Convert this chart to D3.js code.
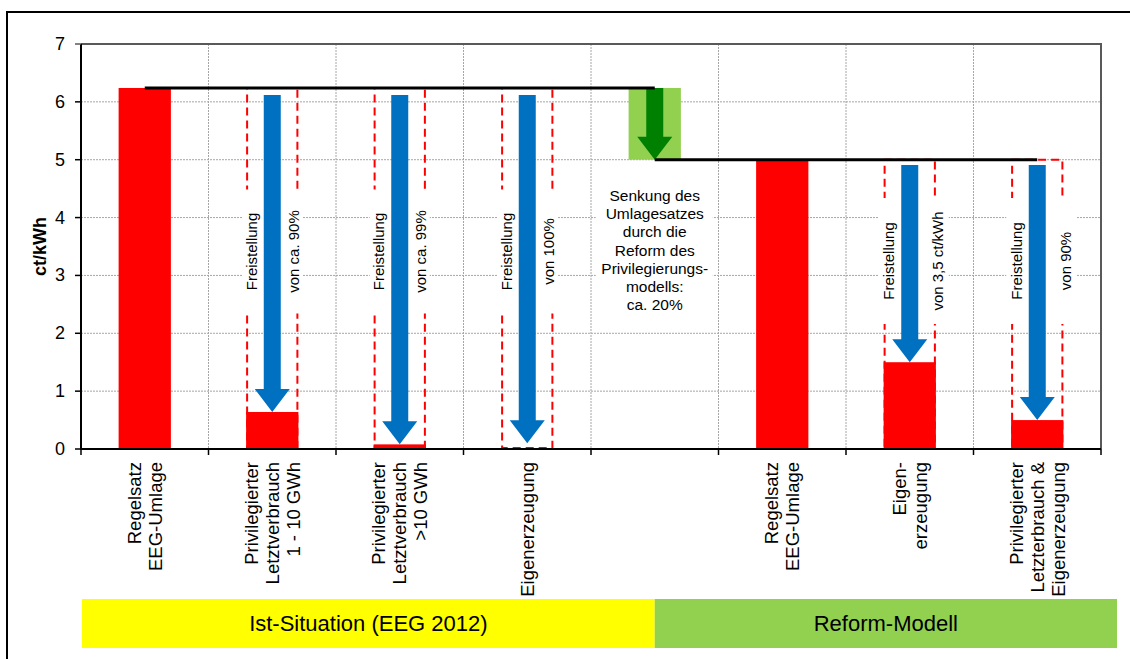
<!DOCTYPE html>
<html>
<head>
<meta charset="utf-8">
<script src="https://cdn.jsdelivr.net/npm/d3@7"></script>
<style>
  html, body { margin: 0; padding: 0; background: #fff; }
  svg { display: block; }
  text { font-family: "Liberation Sans", Arial, sans-serif; fill: #000; }
</style>
</head>
<body>
<svg id="chart" width="1130" height="659"></svg>
<script>
// Category labels (multi-line, rotated under the axis)
const categories = [
  ["Regelsatz", "EEG-Umlage"],
  ["Privilegierter", "Letztverbrauch", "1 - 10 GWh"],
  ["Privilegierter", "Letztverbrauch", ">10 GWh"],
  ["Eigenerzeugung"],
  [],
  ["Regelsatz", "EEG-Umlage"],
  ["Eigen-", "erzeugung"],
  ["Privilegierter", "Letzterbrauch &", "Eigenerzeugung"]
];

// Payable levy per group, ct/kWh (null = empty slot)
const barValues = [6.24, 0.64, 0.08, 0, null, 5.0, 1.5, 0.5];

// Levy rates: current rule and reform model
const rateIst = 6.24;
const rateReform = 5.0;

// Exemptions: category, rate they start from, arrow start and arrow end (ct/kWh)
const exemptCategory = [1, 2, 3, 6, 7];
const exemptRate = [6.24, 6.24, 6.24, 5.0, 5.0];
const arrowFrom = [6.12, 6.12, 6.12, 4.91, 4.91];
const arrowTo = [0.64, 0.08, 0.1, 1.5, 0.5];
const exemptLeft = ["Freistellung", "Freistellung", "Freistellung", "Freistellung", "Freistellung"];
const exemptRight = ["von ca. 90%", "von ca. 99%", "von 100%", "von 3,5 ct/kWh", "von 90%"];

// Reduction of the levy rate by the reform
const reductionCategory = 4;
const reductionText = ["Senkung des", "Umlagesatzes", "durch die", "Reform des",
  "Privilegierungs-", "modells:", "ca. 20%"];

// Y axis ticks
const yTicks = [0, 1, 2, 3, 4, 5, 6, 7];

// Scenario bands below the axis
const scenarios = ["Ist-Situation (EEG 2012)", "Reform-Modell"];

// ---------------------------------------------------------------
const svg = d3.select("#chart");
const plot = { left: 81, right: 1101, top: 44, bottom: 449 };

const y = d3.scaleLinear().domain([0, 7]).range([plot.bottom, plot.top]);
const x = d3.scaleBand().domain(d3.range(categories.length)).range([plot.left, plot.right]);
const bw = x.bandwidth() * 0.41;
const cx = i => x(i) + x.bandwidth() / 2;

// Outer frame
svg.append("rect").attr("x", 7).attr("y", 12).attr("width", 1140).attr("height", 670)
  .attr("fill", "none").attr("stroke", "#000").attr("stroke-width", 2);

// Grid
const grid = svg.append("g");
grid.selectAll("line.h").data(yTicks.filter(t => t > 0 && t < 7)).join("line")
  .attr("x1", plot.left).attr("x2", plot.right)
  .attr("y1", d => y(d)).attr("y2", d => y(d))
  .attr("stroke", "#a6a6a6").attr("stroke-width", 1).attr("stroke-dasharray", "2,1");
grid.selectAll("line.v").data(d3.range(1, categories.length)).join("line")
  .attr("x1", d => x(d)).attr("x2", d => x(d))
  .attr("y1", plot.top).attr("y2", plot.bottom)
  .attr("stroke", "#a6a6a6").attr("stroke-width", 1).attr("stroke-dasharray", "2,1");
// plot area border (top, right)
grid.append("path")
  .attr("d", `M${plot.left},${y(7)}H${plot.right}V${plot.bottom}`)
  .attr("fill", "none").attr("stroke", "#595959").attr("stroke-width", 2);

// Dashed outlines of the full rate for exempted groups
svg.append("g").selectAll("rect").data(exemptCategory).join("rect")
  .attr("x", c => cx(c) - bw / 2 + 1)
  .attr("width", bw - 2)
  .attr("y", (c, i) => y(exemptRate[i]))
  .attr("height", (c, i) => y(0) - y(exemptRate[i]) - 1)
  .attr("fill", "none").attr("stroke", "#ff0000").attr("stroke-width", 2)
  .attr("stroke-dasharray", "8,5");

// White backing of the exemption labels
const labelBox = { ist: { mid: 251.5, w: 60, h: 124, dx: 0, rx: 21 },
                   reform: { mid: 261, w: 70, h: 126, dx: 4, rx: 28 } };
const boxOf = i => exemptRate[i] === rateIst ? labelBox.ist : labelBox.reform;
svg.append("g").selectAll("rect").data(exemptCategory).join("rect")
  .attr("x", (c, i) => cx(c) + boxOf(i).dx - boxOf(i).w / 2)
  .attr("y", (c, i) => boxOf(i).mid - boxOf(i).h / 2)
  .attr("width", (c, i) => boxOf(i).w)
  .attr("height", (c, i) => boxOf(i).h)
  .attr("fill", "#fff");

// White backing of the reduction note
svg.append("rect").attr("x", cx(reductionCategory) - 59).attr("y", 182)
  .attr("width", 117).attr("height", 138).attr("fill", "#fff");

// Bars
svg.append("g").selectAll("rect")
  .data(barValues.map((v, i) => ({ v, i })).filter(d => d.v !== null && d.v > 0))
  .join("rect")
  .attr("x", d => cx(d.i) - bw / 2).attr("width", bw)
  .attr("y", d => y(d.v)).attr("height", d => y(0) - y(d.v))
  .attr("fill", "#ff0000");

// Block arrow pointing down
function arrowPath(xc, y0, y1, shaft, head, headH) {
  return `M${xc - shaft / 2},${y0}H${xc + shaft / 2}V${y1 - headH}H${xc + head / 2}` +
         `L${xc},${y1}L${xc - head / 2},${y1 - headH}H${xc - shaft / 2}Z`;
}

svg.append("g").selectAll("path").data(exemptCategory).join("path")
  .attr("d", (c, i) => arrowPath(cx(c), y(arrowFrom[i]), y(arrowTo[i]), 17, 35, 23))
  .attr("fill", "#0070c0");

// Exemption labels
const lab = svg.append("g").style("font-size", "15px");
exemptCategory.forEach((c, i) => {
  const b = boxOf(i);
  lab.append("text")
    .attr("transform", `translate(${cx(c) - 21},${b.mid}) rotate(-90)`)
    .attr("text-anchor", "middle").attr("dominant-baseline", "central")
    .text(exemptLeft[i]);
  lab.append("text")
    .attr("transform", `translate(${cx(c) + b.rx},${b.mid}) rotate(-90)`)
    .attr("text-anchor", "middle").attr("dominant-baseline", "central")
    .text(exemptRight[i]);
});

// Reduction box and arrow
const rc = cx(reductionCategory);
svg.append("rect").attr("x", rc - bw / 2).attr("width", bw)
  .attr("y", y(rateIst)).attr("height", y(rateReform) - y(rateIst))
  .attr("fill", "#92d050");
svg.append("path")
  .attr("d", arrowPath(rc, y(rateIst), y(rateReform), 17, 35, 23))
  .attr("fill", "#008000");

// Rate lines
const line = d3.line().x(d => cx(d[0])).y(d => y(d[1]));
svg.append("path").attr("d", line([[0, rateIst], [reductionCategory, rateIst]]))
  .attr("stroke", "#000").attr("stroke-width", 3).attr("fill", "none");
svg.append("path").attr("d", line([[reductionCategory, rateReform], [categories.length - 1, rateReform]]))
  .attr("stroke", "#000").attr("stroke-width", 3).attr("fill", "none");

// Reduction note
svg.append("text").attr("text-anchor", "middle").style("font-size", "15.5px")
  .selectAll("tspan").data(reductionText).join("tspan")
  .attr("x", rc).attr("y", (d, i) => 201 + i * 18.2)
  .text(d => d);

// Axes
const ax = svg.append("g");
ax.append("line").attr("x1", plot.left).attr("x2", plot.left)
  .attr("y1", plot.top).attr("y2", plot.bottom).attr("stroke", "#000").attr("stroke-width", 2);
ax.append("line").attr("x1", plot.left - 1).attr("x2", plot.right)
  .attr("y1", plot.bottom).attr("y2", plot.bottom).attr("stroke", "#000").attr("stroke-width", 2);
ax.selectAll("line.yt").data(yTicks).join("line")
  .attr("x1", plot.left - 6).attr("x2", plot.left)
  .attr("y1", d => y(d)).attr("y2", d => y(d))
  .attr("stroke", d => d === 7 ? "#595959" : "#000").attr("stroke-width", 1.5);
ax.selectAll("text.yt").data(yTicks).join("text")
  .attr("x", 65).attr("y", d => y(d))
  .attr("text-anchor", "end").attr("dominant-baseline", "central")
  .style("font-size", "18px").text(d => d);
ax.selectAll("line.xt").data(d3.range(categories.length + 1)).join("line")
  .attr("x1", d => plot.left + d * x.bandwidth()).attr("x2", d => plot.left + d * x.bandwidth())
  .attr("y1", plot.bottom).attr("y2", plot.bottom + 6)
  .attr("stroke", "#000").attr("stroke-width", 1.5);

svg.append("text")
  .attr("transform", `translate(40,${(plot.top + plot.bottom) / 2}) rotate(-90)`)
  .attr("text-anchor", "middle").attr("dominant-baseline", "central")
  .style("font-size", "18px").style("font-weight", "bold").text("ct/kWh");

// Category labels
const cl = svg.append("g").style("font-size", "18.5px");
categories.forEach((lines, i) => {
  lines.forEach((t, j) => {
    cl.append("text")
      .attr("transform", `translate(${cx(i) + (j - (lines.length - 1) / 2) * 21},462) rotate(-90)`)
      .attr("text-anchor", "end").attr("dominant-baseline", "central")
      .text(t);
  });
});

// Scenario bands
const bandTop = 599, bandH = 49;
const bands = [
  { x0: plot.left + 1, x1: rc, fill: "#ffff00" },
  { x0: rc, x1: plot.right + 16, fill: "#92d050" }
];
bands.forEach((b, i) => {
  svg.append("rect").attr("x", b.x0).attr("y", bandTop).attr("width", b.x1 - b.x0)
    .attr("height", bandH).attr("fill", b.fill);
  svg.append("text").attr("x", (b.x0 + b.x1) / 2).attr("y", bandTop + bandH / 2)
    .attr("text-anchor", "middle").attr("dominant-baseline", "central")
    .style("font-size", "22px").text(scenarios[i]);
});
</script>
</body>
</html>
